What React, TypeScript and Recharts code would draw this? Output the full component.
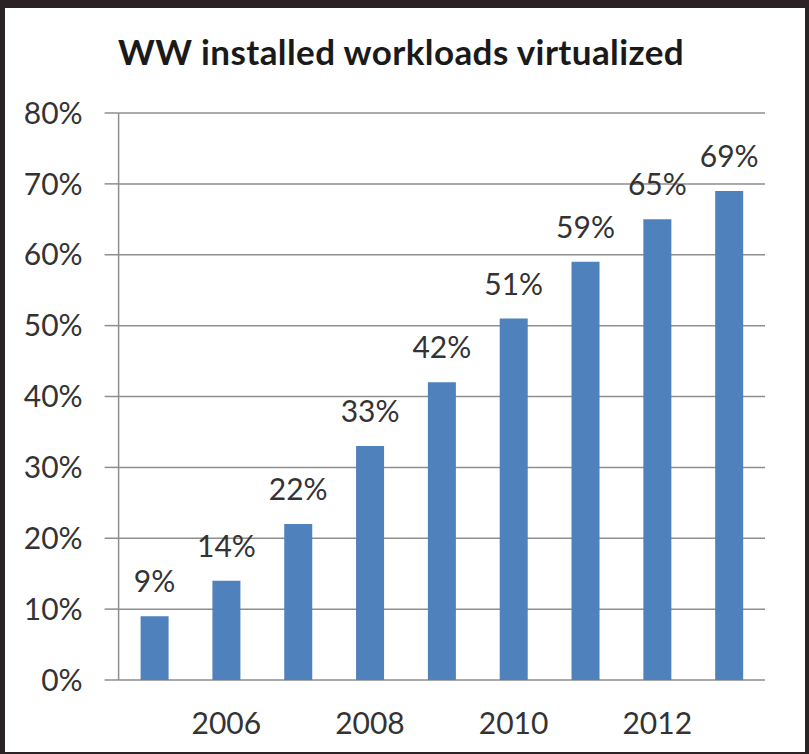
import React from "react";
import { BarChart, Bar, XAxis, YAxis, CartesianGrid, LabelList } from "recharts";

const YEARS = ["2005", "2006", "2007", "2008", "2009", "2010", "2011", "2012", "2013"];
const SHARE = [9, 14, 22, 33, 42, 51, 59, 65, 69];
const Y_TICKS = [0, 10, 20, 30, 40, 50, 60, 70, 80];
const SHOWN_YEARS = ["2006", "2008", "2010", "2012"];
const EDGE_TICKS = [0, 1, 2, 3, 4, 5, 6, 7, 8, 9];

const BLUE = "#4f81bd";
const GRID = "#8e8e8e";
const INK = "#333333";
const FONT = "Lato, 'Noto Sans', sans-serif";

const rows = YEARS.map((year, i) => ({ year, share: SHARE[i], idx: i + 0.5 }));

export default function App() {
  return (
    <div
      style={{
        position: "fixed",
        left: 0,
        top: 0,
        width: 809,
        height: 754,
        background: "#2b2226",
        fontFamily: FONT,
      }}
    >
      <div
        style={{
          position: "absolute",
          left: 5,
          top: 8,
          width: 800,
          height: 744,
          background: "#ffffff",
        }}
      >
        <div
          style={{
            position: "absolute",
            left: 0,
            width: 792,
            top: 22,
            textAlign: "center",
            fontWeight: 700,
            fontSize: 35,
            letterSpacing: 0.4,
            color: "#1a1a1a",
          }}
        >
          WW installed workloads virtualized
        </div>
        <BarChart
          width={800}
          height={744}
          data={rows}
          margin={{ top: 105, right: 40, left: 0, bottom: 12 }}
        >
          <CartesianGrid horizontal vertical={false} stroke={GRID} strokeWidth={1.5} />
          {/* boundary ticks between the categories */}
          <XAxis
            xAxisId="edges"
            type="number"
            dataKey="idx"
            domain={[0, 9]}
            ticks={EDGE_TICKS}
            height={0}
            tickSize={12}
            tickLine={{ stroke: GRID, strokeWidth: 1.5 }}
            axisLine={{ stroke: GRID, strokeWidth: 1.5 }}
            tickFormatter={() => ""}
          />
          <XAxis
            dataKey="year"
            height={60}
            tickLine={false}
            axisLine={false}
            tickSize={12}
            tickMargin={21}
            interval={0}
            tick={{ fontSize: 30, fill: INK }}
            tickFormatter={(v) => (SHOWN_YEARS.includes(String(v)) ? String(v) : "")}
          />
          <YAxis
            width={113.6}
            domain={[0, 80]}
            ticks={Y_TICKS}
            tickSize={14}
            tickMargin={22}
            tickLine={{ stroke: GRID, strokeWidth: 1.5 }}
            axisLine={{ stroke: GRID, strokeWidth: 1.5 }}
            tick={{ fontSize: 30, fill: INK }}
            tickFormatter={(v) => `${v}%`}
          />
          <Bar dataKey="share" fill={BLUE} barSize={28} isAnimationActive={false}>
            <LabelList
              dataKey="share"
              position="top"
              offset={24}
              fill={INK}
              fontSize={30}
              formatter={(v) => `${v}%`}
            />
          </Bar>
        </BarChart>
      </div>
    </div>
  );
}
